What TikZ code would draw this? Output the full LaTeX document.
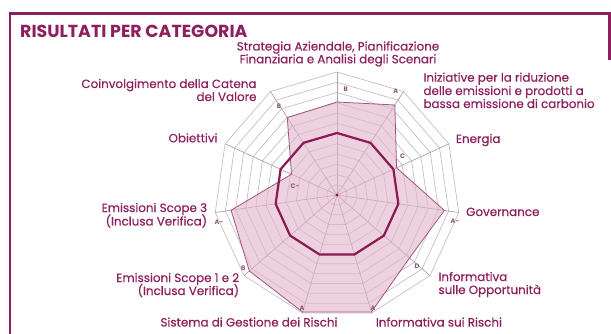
\documentclass[tikz,border=0pt]{standalone}
\usepackage{fontspec}
\setmainfont{Poppins}
\newfontfamily\lblfont[FakeBold=0.4]{Poppins}
\usetikzlibrary{calc}
\definecolor{plum}{HTML}{8E1F5F}
\definecolor{boldc}{HTML}{8A1A52}
\definecolor{fillc}{HTML}{E2B3CB}
\definecolor{edgec}{HTML}{A0577F}
\definecolor{gridc}{HTML}{C2C2C2}
\definecolor{spokec}{HTML}{ADA3A9}
\definecolor{markc}{HTML}{8C5A78}
\tikzset{
  lbl/.style={inner sep=0pt, text=plum, font=\lblfont\fontsize{11.9}{13}\selectfont},
  lbll/.style={lbl, anchor=base west},
  lblr/.style={lbl, anchor=base east},
  lblc/.style={lbl, anchor=base},
  gradem/.style={inner sep=0pt, text=markc, font=\fontsize{6.5}{6.5}\selectfont\bfseries},
  gridline/.style={gridc, line width=0.7pt},
  spokeline/.style={spokec, line width=0.7pt},
  datapoly/.style={fill=fillc, fill opacity=0.6, draw=edgec, draw opacity=1, line width=0.8pt, line join=round},
  avgpoly/.style={boldc, line width=2.2pt, line join=round},
}
\begin{document}
\begin{tikzpicture}[x=1pt,y=-1pt]
\useasboundingbox (0,0) rectangle (611,334);
\fill[white] (0,0) rectangle (611,334);
% frame
\draw[plum, line width=2.4pt] (10,336) -- (10,13.5) -- (609.5,13.5) -- (609.5,60);
\node[inner sep=0pt, anchor=base west, text=plum, font=\fontsize{17.4}{18}\selectfont\bfseries] (title) at (20,38) {RISULTATI PER CATEGORIA};
% radar
\begin{scope}[shift={(337,195)}]
  \coordinate (C) at (0,0);
  \foreach \i in {1,...,12}{
    \draw[gridline] (-90:\i*10.25) \foreach \k in {1,...,10}{ -- (-90+\k*32.7273:\i*10.25)} -- cycle;
  }
  \foreach \k in {0,...,10}{
    \draw[spokeline] (C) -- (-90+\k*32.7273:123);
  }
  % data polygon
  \path[datapoly]
    (-90:93) -- (-57.27:107) -- (-24.55:65.5) -- (8.18:108.5) -- (40.91:96)
    -- (73.64:122) -- (106.36:122) -- (139.09:116) -- (171.82:107)
    -- (204.55:50) -- (237.27:92) -- cycle;
  % average polygon
  \draw[avgpoly] (-90:62) \foreach \k in {1,...,10}{ -- (-90+\k*32.7273:62)} -- cycle;
  \fill[boldc] (C) circle (1.6pt);
\end{scope}
% grade markers
\node[gradem] (g0) at (345.7,89) {B};
\node[gradem] (g1) at (395.7,91) {A};
\node[gradem] (g2) at (402.7,156.7) {C};
\node[gradem] (g3) at (455,221.7) {A-};
\node[gradem] (g4) at (417,266.7) {D};
\node[gradem] (g5) at (373,308.3) {A};
\node[gradem] (g6) at (302,308.3) {A};
\node[gradem] (g7) at (243.3,268.3) {B};
\node[gradem] (g8) at (219,222) {A-};
\node[gradem] (g9) at (295,186) {C-};
\node[gradem] (g10) at (279,106.7) {B};
% category labels
\node[lblc] (s1) at (338,50.5) {Strategia Aziendale, Pianificazione};
\node[lblc] (s2) at (338,63.3) {Finanziaria e Analisi degli Scenari};
\node[lbll] (i1) at (423.3,81.7) {Iniziative per la riduzione};
\node[lbll] (i2) at (423.3,95) {delle emissioni e prodotti a};
\node[lbll] (i3) at (423.3,108) {bassa emissione di carbonio};
\node[lbll] (en) at (455.7,143) {Energia};
\node[lbll] (gov) at (466,216) {Governance};
\node[lbll] (op1) at (438.3,281) {Informativa};
\node[lbll] (op2) at (438.3,294) {sulle Opportunità};
\node[lbll] (ri) at (375.7,326.5) {Informativa sui Rischi};
\node[lblr] (sg) at (337.7,326.5) {Sistema di Gestione dei Rischi};
\node[lblr] (e12a) at (239.3,282) {Emissioni Scope 1 e 2};
\node[lblr] (e12b) at (239.3,295) {(Inclusa Verifica)};
\node[lblr] (e3a) at (207.3,212) {Emissioni Scope 3};
\node[lblr] (e3b) at (207.3,225.5) {(Inclusa Verifica)};
\node[lblr] (ob) at (217.7,142.3) {Obiettivi};
\node[lblr] (co1) at (256.7,88) {Coinvolgimento della Catena};
\node[lblr] (co2) at (256.7,101) {del Valore};
\end{tikzpicture}
\end{document}
